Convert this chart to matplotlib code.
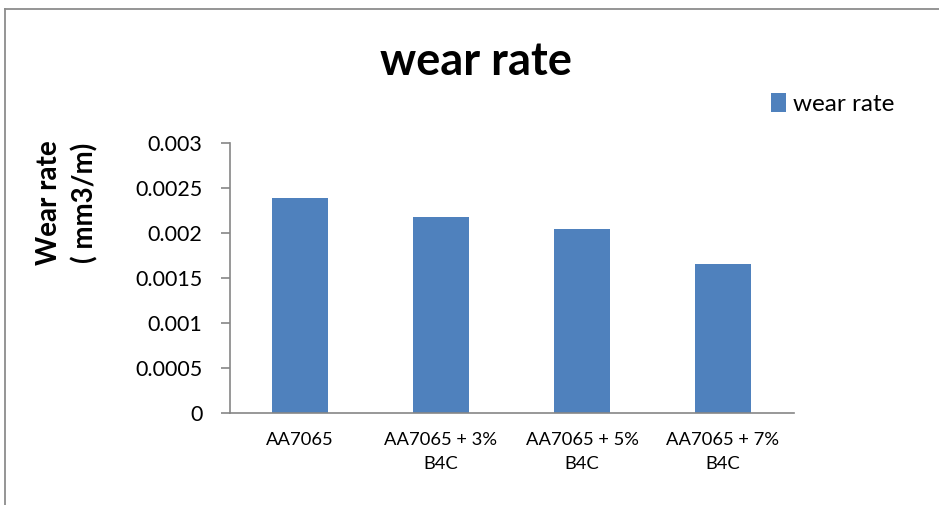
import numpy as np
import matplotlib.pyplot as plt
from matplotlib.lines import Line2D

categories = ["AA7065", "AA7065 + 3%\nB4C", "AA7065 + 5%\nB4C", "AA7065 + 7%\nB4C"]
wear_rate = [0.00239, 0.00218, 0.00204, 0.00166]
yticks = [0, 0.0005, 0.001, 0.0015, 0.002, 0.0025, 0.003]
ytick_labels = ["0", "0.0005", "0.001", "0.0015", "0.002", "0.0025", "0.003"]

plt.rcParams['font.family'] = ['Lato', 'DejaVu Sans']
axis_grey = "#868686"

fig = plt.figure(figsize=(9.39, 5.05), dpi=100)
ax = fig.add_axes([229.5/939, 1-413/505, 564/939, 270/505])

x = np.arange(len(categories))
ax.bar(x, wear_rate, width=0.4, color="#4F81BD", label="wear rate")
ax.set_xlim(-0.5, len(categories)-0.5)
ax.set_ylim(0, 0.003)
ax.set_yticks(yticks)
ax.set_yticklabels(ytick_labels, fontsize=15.5)
ax.set_xticks(x)
ax.set_xticklabels(categories, fontsize=13.2, linespacing=1.65)

for s in ["top", "right"]:
    ax.spines[s].set_visible(False)
for s in ["left", "bottom"]:
    ax.spines[s].set_color(axis_grey)
    ax.spines[s].set_linewidth(1.2)
ax.tick_params(axis="y", direction="out", length=6.5, color=axis_grey, width=1.2, pad=13)
ax.tick_params(axis="x", length=0, pad=13.5)

# y label sits above the axes centre, as in the original
fig.text(67/939, 1-203/505, "Wear rate\n( mm3/m)", fontsize=20, fontweight="bold",
         rotation=90, ha="center", va="center", linespacing=1.4, multialignment="center")

fig.text(476/939, 1-75/505, "wear rate", fontsize=32.5, fontweight="bold", ha="center", va="baseline")
fig.legend(loc="center left", bbox_to_anchor=(759/939, 1-104/505), frameon=False,
           fontsize=17.5, handlelength=0.6, handleheight=0.85, handletextpad=0.3, borderpad=0)

fig.add_artist(Line2D([4.5/939, 4.5/939], [0, 1-8.5/505], transform=fig.transFigure, color="#8c8c8c", lw=1.3))
fig.add_artist(Line2D([4.5/939, 1], [1-8.5/505, 1-8.5/505], transform=fig.transFigure, color="#8c8c8c", lw=1.3))

fig.savefig("out.png", dpi=100)
